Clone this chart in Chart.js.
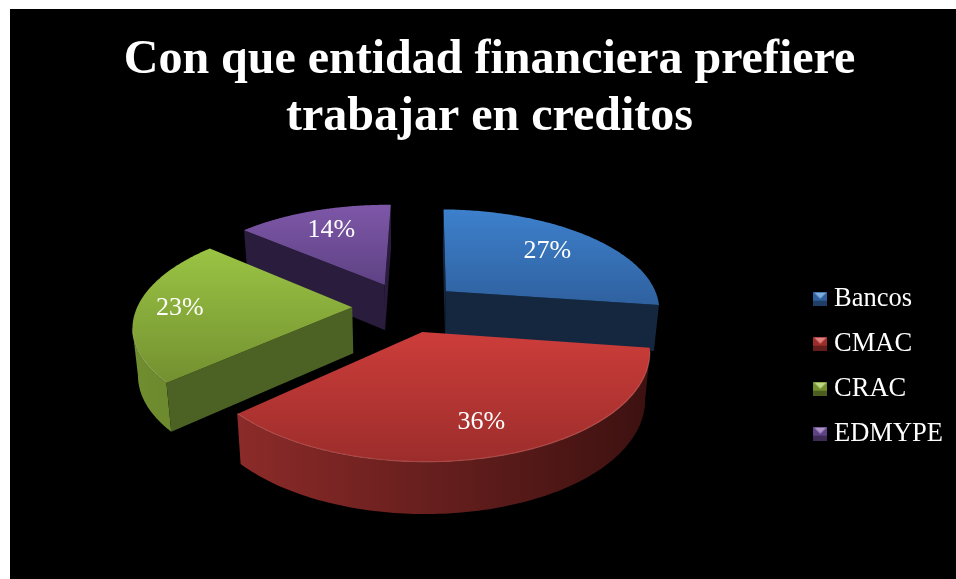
<!DOCTYPE html>
<html lang="es">
<head>
<meta charset="utf-8">
<style>
html,body{margin:0;padding:0;background:#fff;width:956px;height:579px;overflow:hidden}
#bg{position:absolute;left:10px;top:9px;width:946px;height:570px;background:#000}
#wrap{position:absolute;left:26px;top:9px;width:930px;height:570px}
canvas{display:block}
</style>
<script src="https://cdn.jsdelivr.net/npm/chart.js@4/dist/chart.umd.min.js"></script>
</head>
<body>
<div id="bg"></div>
<div id="wrap"><canvas id="c" width="930" height="570"></canvas></div>
<script>
const categories = ['Bancos','CMAC','CRAC','EDMYPE'];
const shares = [27,36,23,14];
const explodePercent = [25,25,25,25];
const titleLines = ['Con que entidad financiera prefiere','trabajar en creditos'];

const topLight = ['#3d80cc','#cc3d3a','#9ac444','#7e57a8'];
const topDark  = ['#2f619f','#9c2d2b','#739030','#5e4284'];
const rimLeft  = ['#1a3556','#8c2b29','#708e2f','#33244a'];
const rimRight = ['#1a3556','#3c1110','#5b7628','#33244a'];
const wallFill = ['#14273f','#3c1110','#4b6224','#291c3c'];
const drawOrder = [3,0,2,1];
const labelRadius = [0.70,0.76,0.80,0.72];

const view = {cx:380, cy:298, sx:215, sy:100, persp:0.164, depth:46, shrink:0.98};
const serif = '"Liberation Serif","Times New Roman",serif';

function project(ux,uy){
  const w = 1 - view.persp*uy;
  return {x:view.cx + view.sx*ux/w, y:view.cy + view.sy*uy/w, w};
}
function drop(p){
  return {x:view.cx + (p.x-view.cx)*view.shrink, y:p.y + view.depth/Math.sqrt(p.w)};
}
function hexRgb(h){return [1,3,5].map(i=>parseInt(h.slice(i,i+2),16));}
function mix(a,b,t){
  const A=hexRgb(a),B=hexRgb(b);
  return 'rgb('+A.map((v,i)=>Math.round(v+(B[i]-v)*t)).join(',')+')';
}
const DOWN={x:0,y:1};
function faceVisible(a,b,interior){
  const ex=b.x-a.x, ey=b.y-a.y;
  const c1=ex*(interior.y-a.y)-ey*(interior.x-a.x);
  const c2=ex*DOWN.y-ey*DOWN.x;
  return c1*c2<0;
}
function prism(ctx,pts,fill){
  ctx.beginPath();
  pts.forEach((p,k)=>k?ctx.lineTo(p.x,p.y):ctx.moveTo(p.x,p.y));
  pts.slice().reverse().forEach(p=>{const d=drop(p);ctx.lineTo(d.x,d.y);});
  ctx.closePath();ctx.fillStyle=fill;ctx.fill();
}

const pie3d = {
  id:'pie3d',
  beforeDatasetDraw(chart,args){
    const ctx=chart.ctx, arcs=args.meta.data, total=shares.reduce((a,b)=>a+b,0);
    ctx.save();
    drawOrder.forEach(i=>{
      const arc=arcs[i], e=arc.options.offset/100;
      const a0=arc.startAngle, a1=arc.endAngle, mid=(a0+a1)/2;
      const ox=Math.cos(mid)*e, oy=Math.sin(mid)*e;
      const N=120, rim=[];
      for(let k=0;k<=N;k++){
        const t=a0+(a1-a0)*k/N;
        rim.push(project(ox+Math.cos(t),oy+Math.sin(t)));
      }
      const apex=project(ox,oy);
      const inner=project(ox+Math.cos(mid)*0.5,oy+Math.sin(mid)*0.5);
      const xs=rim.map(p=>p.x).concat(apex.x), ys=rim.map(p=>p.y).concat(apex.y);
      const minX=Math.min(...xs), maxX=Math.max(...xs), minY=Math.min(...ys), maxY=Math.max(...ys);
      // outer rim: contiguous front-facing runs, shaded left to right
      const rimGrad=ctx.createLinearGradient(minX,0,maxX,0);
      rimGrad.addColorStop(0,rimLeft[i]);rimGrad.addColorStop(1,rimRight[i]);
      let run=[];
      const runs=[];
      for(let k=0;k<N;k++){
        if(faceVisible(rim[k],rim[k+1],apex)){
          if(!run.length) run.push(rim[k]);
          run.push(rim[k+1]);
        } else if(run.length){runs.push(run);run=[];}
      }
      if(run.length) runs.push(run);
      runs.forEach(r=>prism(ctx,r,rimGrad));
      // cut faces
      [rim[0],rim[N]].forEach(p=>{
        if(faceVisible(apex,p,inner)) prism(ctx,[apex,p],wallFill[i]);
      });
      // top surface
      const g=ctx.createLinearGradient(0,minY,0,maxY);
      g.addColorStop(0,topLight[i]);g.addColorStop(1,topDark[i]);
      ctx.beginPath();ctx.moveTo(apex.x,apex.y);
      rim.forEach(p=>ctx.lineTo(p.x,p.y));
      ctx.closePath();ctx.fillStyle=g;ctx.fill();
      // bevel highlight on the visible rim
      ctx.strokeStyle='rgba(255,255,255,0.13)';ctx.lineWidth=1.4;
      runs.forEach(r=>{
        ctx.beginPath();
        r.forEach((p,k)=>k?ctx.lineTo(p.x,p.y-0.7):ctx.moveTo(p.x,p.y-0.7));
        ctx.stroke();
      });
    });
    // percentage labels
    ctx.fillStyle='#fff';ctx.font='26px '+serif;ctx.textAlign='center';ctx.textBaseline='middle';
    arcs.forEach((arc,i)=>{
      const e=arc.options.offset/100, mid=(arc.startAngle+arc.endAngle)/2, f=labelRadius[i];
      const p=project(Math.cos(mid)*(e+f),Math.sin(mid)*(e+f));
      ctx.fillText(Math.round(shares[i]/total*100)+'%',p.x,p.y);
    });
    ctx.restore();
    return false;
  }
};

function marker(i){
  const c=document.createElement('canvas');c.width=14;c.height=14;
  const x=c.getContext('2d');
  x.fillStyle=topDark[i];x.fillRect(0,0,14,14);
  x.fillStyle=mix(topDark[i],'#000000',0.35);x.fillRect(0,9,14,5);
  x.fillStyle=mix(topLight[i],'#ffffff',0.35);
  x.beginPath();x.moveTo(1,1);x.lineTo(13,1);x.lineTo(7,7);x.closePath();x.fill();
  return c;
}
const markers=categories.map((_,i)=>marker(i));

new Chart(document.getElementById('c'),{
  type:'pie',
  data:{labels:categories,datasets:[{data:shares,backgroundColor:topLight,offset:explodePercent,borderWidth:0}]},
  plugins:[pie3d],
  options:{
    responsive:false,animation:false,rotation:1,
    layout:{padding:{right:3}},
    plugins:{
      tooltip:{enabled:false},
      title:{display:true,text:titleLines,color:'#fff',
        font:{family:serif,size:48,weight:'bold',lineHeight:1.17},
        padding:{top:24,bottom:8}},
      legend:{position:'right',fullSize:false,
        labels:{color:'#fff',font:{family:serif,size:26.5},usePointStyle:true,boxWidth:1,padding:18.5,
          generateLabels(chart){
            return categories.map((t,i)=>({text:t,fontColor:'#fff',pointStyle:markers[i],fillStyle:topLight[i],strokeStyle:topLight[i],lineWidth:0,hidden:false,index:i}));
          }}}
    }
  }
});
</script>
</body>
</html>
